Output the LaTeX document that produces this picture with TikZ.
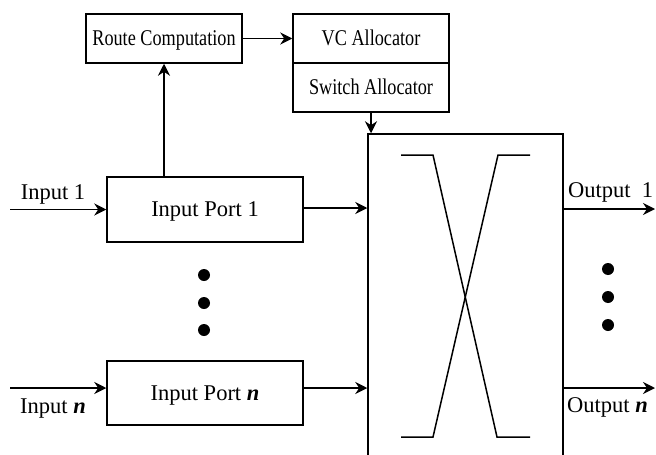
\documentclass[tikz,border=0pt]{standalone}
\usepackage{fontspec}
\setmainfont{Liberation Serif}
\usetikzlibrary{arrows.meta}
\begin{document}
\begin{tikzpicture}[x=1pt,y=-1pt,
  every node/.style={inner sep=0pt, font=\fontsize{22.5}{26}\selectfont},
  blk/.style={draw, line width=1.5pt, rectangle, text height=14.5pt, text depth=0pt},
  topblk/.style={blk, minimum width=156pt, minimum height=49pt},
  portblk/.style={blk, minimum width=196pt},
  lbl/.style={anchor=base},
  conn/.style={line width=1.5pt, -{Stealth[length=12pt,width=12pt,inset=4pt]}},
  wire/.style={line width=1.5pt},
  dot/.style={circle, fill=black, minimum size=12pt}]
\useasboundingbox (0,0) rectangle (656,455);
\clip (0,0) rectangle (656,455);
% blocks
\node[topblk] (rc) at (164,38.5) {\scalebox{0.81}[1]{Route Computation}};
\node[topblk] (vc) at (371,38.5) {\scalebox{0.81}[1]{VC Allocator}};
\node[topblk] (sa) at (371,87.5) {\scalebox{0.81}[1]{Switch Allocator}};
\node[portblk, minimum height=65pt] (ip1) at (205,209.5) {Input Port 1};
\node[portblk, minimum height=64pt] (ipn) at (205,393) {Input Port \textbf{\textit{n}}};
\node[draw, line width=1.5pt, minimum width=195pt, minimum height=336pt] (xbar) at (465.5,302) {};
% crossbar lines
\draw[wire] (401,155) -- (433,155) -- (497,437) -- (530,437);
\draw[wire] (530,155) -- (498,155) -- (433,437) -- (401,437);
% coordinates
\coordinate (in1) at (10,209.5);
\coordinate (inn) at (10,388);
\coordinate (out1) at (655,209);
\coordinate (outn) at (655,388);
% connectors
\draw[conn] (rc.east) -- (vc.west);
\draw[conn] (rc.south |- ip1.north) -- (rc.south);
\draw[conn] (sa.south) -- (sa.south |- xbar.north);
\draw[conn] (in1) -- (ip1.west);
\draw[conn] (inn) -- (inn -| ipn.west);
\draw[conn] ([yshift=1.5pt]ip1.east) -- ([yshift=1.5pt]ip1.east -| xbar.west);
\draw[conn] (inn -| ipn.east) -- (inn -| xbar.west);
\draw[conn] (out1 -| xbar.east) -- (out1);
\draw[conn] (outn -| xbar.east) -- (outn);
% labels
\node[lbl] (lin1) at (53,199) {Input 1};
\node[lbl] (linn) at (53,413) {Input \textbf{\textit{n}}};
\node[lbl, anchor=base west] (lout1) at (568,197) {Output\ \ 1};
\node[lbl, anchor=base west] (loutn) at (567,412) {Output \textbf{\textit{n}}};
% dots
\node[dot] (d1) at (204,275) {};
\node[dot] (d2) at (204,303) {};
\node[dot] (d3) at (204,330) {};
\node[dot] (e1) at (608,269) {};
\node[dot] (e2) at (608,297) {};
\node[dot] (e3) at (608,325) {};
\end{tikzpicture}
\end{document}
